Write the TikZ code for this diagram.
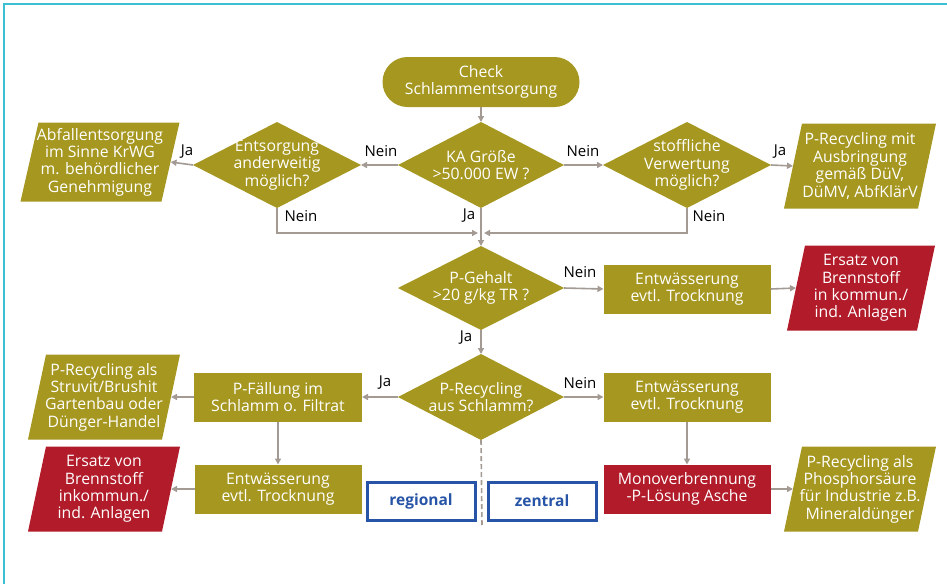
\documentclass[tikz,border=0pt]{standalone}
\usepackage{fontspec}
\setmainfont{Open Sans}
\usetikzlibrary{shapes.geometric,arrows.meta,backgrounds}
\definecolor{oli}{HTML}{A69720}
\definecolor{rd}{HTML}{B21B29}
\definecolor{gr}{HTML}{A39A94}
\definecolor{cy}{HTML}{3CBFD2}
\definecolor{bl}{HTML}{2754A6}
\newcommand\parafill[2]{\fill[#2] ([xshift=9pt]#1.north west) -- ([xshift=9pt]#1.north east) -- ([xshift=-9pt]#1.south east) -- ([xshift=-9pt]#1.south west) -- cycle;}
\begin{document}
\begin{tikzpicture}[x=1pt,y=-1pt,
  every node/.style={inner sep=0pt, outer sep=0pt},
  txt/.style={font=\fontsize{15.8}{17.4}\selectfont, text=white, align=center},
  box/.style={txt, fill=oli, minimum width=167, minimum height=49},
  rbox/.style={box, fill=rd},
  dec/.style={diamond, fill=oli, minimum width=166, minimum height=86},
  para/.style={txt, rectangle, minimum width=134, minimum height=85},
  lab/.style={font=\fontsize{15}{17}\selectfont, text=black},
  arr/.style={draw=gr, line width=1.6pt, -{Triangle[length=6pt,width=6pt]}},
  lin/.style={draw=gr, line width=1.6pt},
  bbox/.style={draw=bl, line width=3pt, minimum width=108, minimum height=38, text=bl, font=\bfseries\fontsize{15.5}{17}\selectfont}
]
\useasboundingbox (0,0) rectangle (947,584);
\draw[cy, line width=2pt] (4,584) -- (4,4) -- (947,4);

% nodes
\node[txt, fill=oli, rounded corners=25pt, minimum width=197, minimum height=50] (start) at (481,82) {Check\\Schlammentsorgung};
\node[dec, label={[txt]center:KA Größe\\>50.000 EW ?}] (d1) at (481,165) {};
\node[dec, minimum width=168, label={[txt]center:Entsorgung\\anderweitig\\möglich?}] (d2) at (277,165) {};
\node[dec, minimum width=168, label={[txt]center:stoffliche\\Verwertung\\möglich?}] (d3) at (687,165) {};
\node[para, minimum width=141, minimum height=79] (p1) at (100,162) {Abfallentsorgung\\im Sinne KrWG\\m. behördlicher\\Genehmigung};
\node[para] (p2) at (860,166) {P-Recycling mit\\Ausbringung\\gemäß DüV,\\DüMV, AbfKlärV};

\node[dec, minimum height=84, label={[txt]center:P-Gehalt\\>20 g/kg TR ?}] (d4) at (481,288) {};
\node[box] (b1) at (687,289) {Entwässerung\\evtl. Trocknung};
\node[para, minimum width=130] (p3) at (861,288) {Ersatz von\\Brennstoff\\in kommun./\\ind. Anlagen};

\node[dec, label={[txt]center:P-Recycling\\aus Schlamm?}] (d5) at (481,397) {};
\node[box, minimum width=168] (b2) at (278,397) {P-Fällung im\\Schlamm o. Filtrat};
\node[para] (p4) at (104,397) {P-Recycling als\\Struvit/Brushit\\Gartenbau oder\\Dünger-Handel};
\node[box] (b3) at (278,489) {Entwässerung\\evtl. Trocknung};
\node[para] (p5) at (104,489) {Ersatz von\\Brennstoff\\inkommun./\\ind. Anlagen};
\node[box] (b4) at (687,397) {Entwässerung\\evtl. Trocknung};
\node[rbox] (b5) at (687,489) {Monoverbrennung\\-P-Lösung Asche};
\node[para] (p6) at (860,489) {P-Recycling als\\Phosphorsäure\\für Industrie z.B.\\Mineraldünger};

\begin{scope}[on background layer]
\parafill{p1}{oli}
\parafill{p2}{oli}
\parafill{p3}{rd}
\parafill{p4}{oli}
\parafill{p5}{rd}
\parafill{p6}{oli}
\end{scope}

\node[bbox] (reg) at (421,501) {regional};
\node[bbox] (zen) at (542,501) {zentral};

% labels
\node[lab] (l1) at (381,151) {Nein};
\node[lab] (l2) at (187,152) {Ja};
\node[lab] (l3) at (301,216) {Nein};
\node[lab] (l4) at (469,216) {Ja};
\node[lab] (l5) at (583,151) {Nein};
\node[lab] (l6) at (780,152) {Ja};
\node[lab] (l7) at (709,216) {Nein};
\node[lab] (l8) at (580,272) {Nein};
\node[lab] (l9) at (466,338) {Ja};
\node[lab] (l10) at (385,383) {Ja};
\node[lab] (l11) at (580,383) {Nein};

% connectors
\coordinate (jl) at (478,233);
\coordinate (jr) at (484,233);
\coordinate (dend) at (482,526);
\draw[arr] (start) -- (d1);
\draw[arr] (d1.west) -- (d2.east);
\draw[arr] (d2.west) -- (p1.east);
\draw[arr] (d1.east) -- (d3.west);
\draw[arr] (d3.east) -- (p2.west);
\draw[arr] (d2.south) |- (jl);
\draw[arr] (d3.south) |- (jr);
\draw[arr] (d1.south) -- (d4.north);
\draw[arr] (d4.east) -- (b1.west);
\draw[arr] (b1.east) -- (p3.west);
\draw[arr] (d4.south) -- (d5.north);
\draw[arr] (d5.west) -- (b2.east);
\draw[arr] (b2.west) -- (p4.east);
\draw[arr] (b2.south) -- (b3.north);
\draw[arr] (b3.west) -- (p5.east);
\draw[arr] (d5.east) -- (b4.west);
\draw[arr] (b4.south) -- (b5.north);
\draw[arr] (b5.east) -- (p6.west);
\draw[lin, dash pattern=on 5pt off 3pt] (d5.south) -- (dend);
\end{tikzpicture}
\end{document}
